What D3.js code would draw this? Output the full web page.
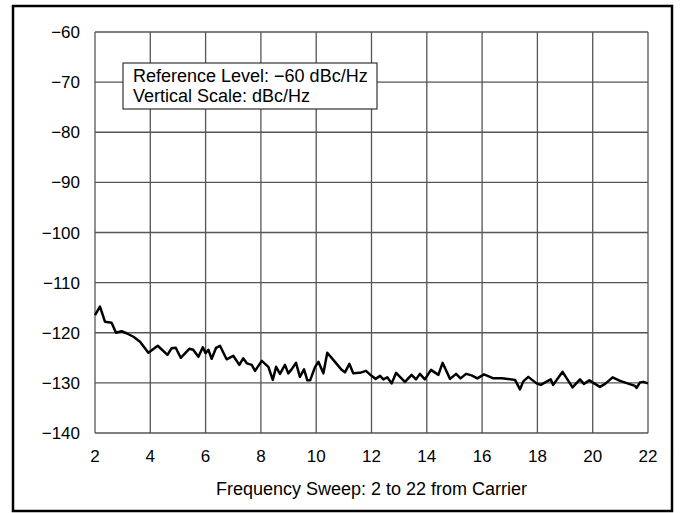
<!DOCTYPE html>
<html lang="en">
<head>
    <meta charset="UTF-8">
    <title>Frequency Sweep</title>
    <script src="https://d3js.org/d3.v7.min.js"></script>
    <style>
        body { margin: 0; background: #fff; }
        svg { display: block; font-family: "Liberation Sans", Arial, sans-serif; }
    </style>
</head>
<body>
    <svg width="680" height="513"></svg>

    <script>
        // sweep frequency (x) and noise level in dBc/Hz (y)
        const freqs = [2.0, 2.18, 2.36, 2.6, 2.76, 2.96, 3.14, 3.39, 3.63, 3.93,
            4.27, 4.62, 4.77, 4.92, 5.1, 5.41, 5.55, 5.74, 5.9, 6.0,
            6.1, 6.22, 6.38, 6.52, 6.76, 7.0, 7.22, 7.36, 7.49, 7.67,
            7.79, 8.03, 8.27, 8.43, 8.55, 8.69, 8.87, 8.99, 9.11, 9.27,
            9.41, 9.56, 9.68, 9.78, 9.96, 10.08, 10.26, 10.4, 10.68, 10.92,
            11.04, 11.2, 11.34, 11.58, 11.8, 12.0, 12.15, 12.31, 12.43, 12.57,
            12.73, 12.89, 13.03, 13.21, 13.45, 13.61, 13.75, 13.93, 14.15, 14.42,
            14.57, 14.84, 15.06, 15.22, 15.42, 15.62, 15.83, 16.07, 16.41, 16.71,
            17.19, 17.37, 17.49, 17.67, 17.97, 18.12, 18.48, 18.57, 18.91, 19.27,
            19.54, 19.68, 19.88, 20.26, 20.45, 20.72, 20.99, 21.53, 21.59, 21.71,
            21.83, 22.0];
        const levels = [-116.5, -114.8, -117.8, -118.0, -120.0, -119.7, -120.1, -120.8, -121.8, -124.0,
            -122.6, -124.4, -123.1, -123.0, -125.0, -123.2, -123.4, -124.8, -122.9, -124.1,
            -123.4, -125.2, -123.0, -122.6, -125.3, -124.6, -126.4, -125.1, -126.1, -126.4,
            -127.6, -125.6, -126.8, -129.4, -126.8, -128.2, -126.4, -128.1, -127.3, -126.0,
            -128.8, -127.3, -129.5, -129.5, -126.8, -125.8, -128.1, -124.0, -125.8, -127.4,
            -127.9, -126.2, -128.1, -128.0, -127.6, -128.6, -129.2, -128.6, -129.3, -128.9,
            -130.1, -128.0, -128.8, -129.8, -128.4, -129.3, -128.2, -129.3, -127.4, -128.4,
            -126.0, -129.2, -128.2, -129.1, -128.2, -128.5, -129.1, -128.3, -129.1, -129.1,
            -129.4, -131.3, -129.7, -128.8, -130.1, -130.4, -129.3, -130.4, -127.8, -130.9,
            -129.3, -130.2, -129.5, -130.8, -130.2, -128.9, -129.6, -130.6, -131.0, -129.9,
            -129.8, -130.1];

        const xTicks = [2, 4, 6, 8, 10, 12, 14, 16, 18, 20, 22];
        const yTicks = [-60, -70, -80, -90, -100, -110, -120, -130, -140];
        const legendLines = ["Reference Level: \u221260 dBc/Hz", "Vertical Scale: dBc/Hz"];
        const xTitle = "Frequency Sweep: 2 to 22 from Carrier";

        const svg = d3.select("svg");
        const plot = { left: 95, right: 648, top: 32, bottom: 433 };

        const x = d3.scaleLinear().domain([2, 22]).range([plot.left, plot.right]);
        const y = d3.scaleLinear().domain([-140, -60]).range([plot.bottom, plot.top]);

        // outer frame
        svg.append("rect")
            .attr("x", 13).attr("y", 6)
            .attr("width", 659).attr("height", 505)
            .attr("fill", "none")
            .attr("stroke", "#000")
            .attr("stroke-width", 2.5);

        // grid
        svg.append("g").selectAll("line")
            .data(xTicks)
            .join("line")
            .attr("x1", d => x(d)).attr("x2", d => x(d))
            .attr("y1", plot.top).attr("y2", plot.bottom)
            .attr("stroke", "#555").attr("stroke-width", 1.3);
        svg.append("g").selectAll("line")
            .data(yTicks)
            .join("line")
            .attr("x1", plot.left).attr("x2", plot.right)
            .attr("y1", d => y(d)).attr("y2", d => y(d))
            .attr("stroke", "#555").attr("stroke-width", 1.3);

        // y labels
        svg.append("g").selectAll("text")
            .data(yTicks)
            .join("text")
            .attr("x", 80)
            .attr("y", d => y(d) + 6)
            .attr("text-anchor", "end")
            .attr("font-size", 17)
            .text(d => d < 0 ? "\u2212" + Math.abs(d) : d);

        // x labels
        svg.append("g").selectAll("text")
            .data(xTicks)
            .join("text")
            .attr("x", d => x(d))
            .attr("y", 462)
            .attr("text-anchor", "middle")
            .attr("font-size", 17)
            .text(d => d);

        svg.append("text")
            .attr("x", (plot.left + plot.right) / 2)
            .attr("y", 495)
            .attr("text-anchor", "middle")
            .attr("font-size", 18)
            .text(xTitle);

        // legend box
        svg.append("rect")
            .attr("x", 123).attr("y", 63)
            .attr("width", 254).attr("height", 46)
            .attr("fill", "#fff")
            .attr("stroke", "#333")
            .attr("stroke-width", 1.2);
        svg.append("g").selectAll("text")
            .data(legendLines)
            .join("text")
            .attr("x", 133)
            .attr("y", (d, i) => 81.5 + i * 20)
            .attr("font-size", 18)
            .text(d => d);

        // data line
        const pts = freqs.map((f, i) => [f, levels[i]]);
        svg.append("path")
            .datum(pts)
            .attr("fill", "none")
            .attr("stroke", "#000")
            .attr("stroke-width", 2.5)
            .attr("stroke-linejoin", "round")
            .attr("d", d3.line().x(d => x(d[0])).y(d => y(d[1])));
    </script>
</body>
</html>
